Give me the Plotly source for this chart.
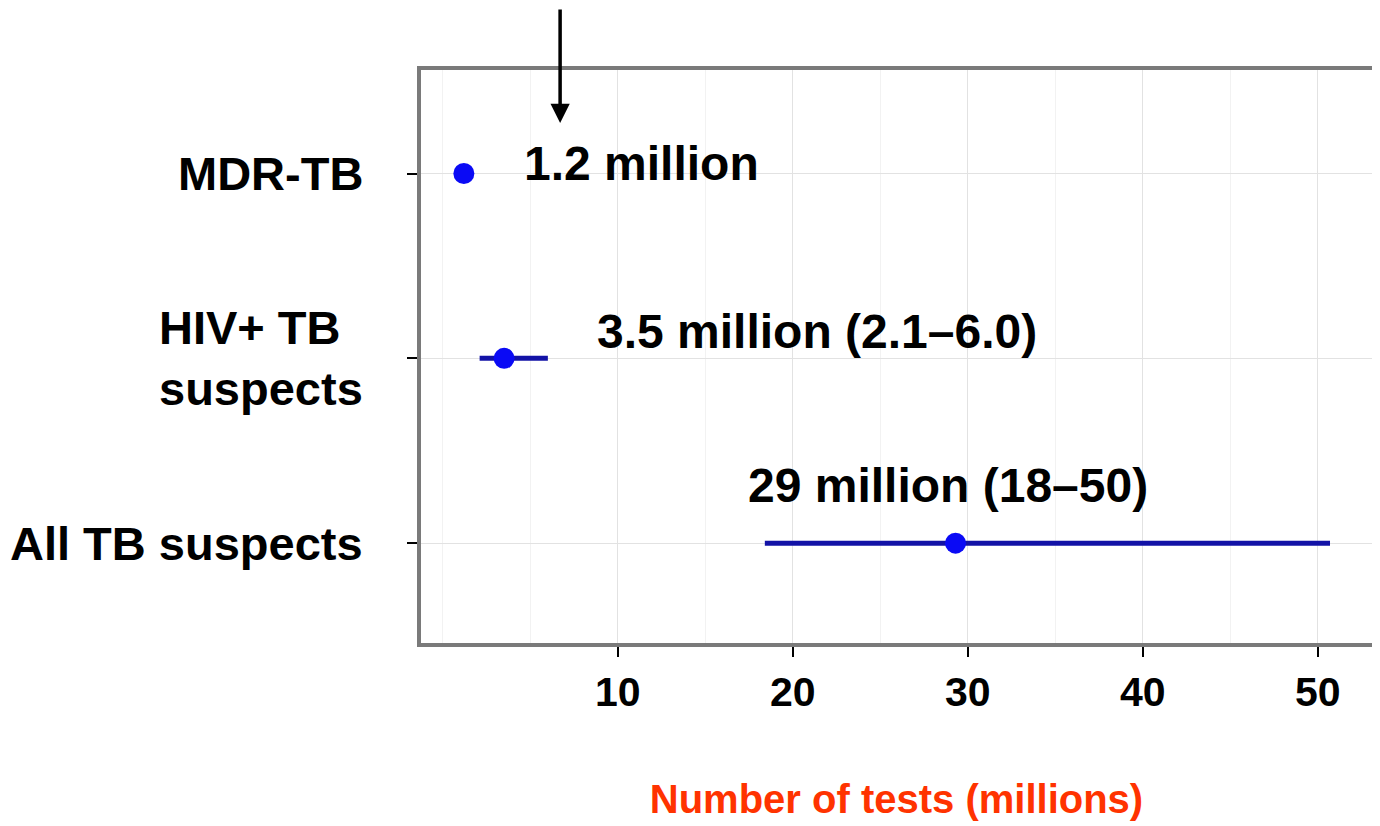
import plotly.graph_objects as go

categories = ["All TB suspects", "HIV+ TB suspects", "MDR-TB"]
cat_labels = ["All TB suspects", "HIV+ TB<br>suspects", "MDR-TB"]
estimates = [29.3, 3.5, 1.2]
low = [18.4, 2.1, 1.2]
high = [50.7, 6.0, 1.2]
value_labels = ["29 million (18–50)", "3.5 million (2.1–6.0)", "1.2 million"]
x_ticks = [10, 20, 30, 40, 50]

FONT = "Liberation Sans, Arial, sans-serif"

fig = go.Figure()
fig.add_trace(go.Scatter(
    x=estimates, y=categories, mode="markers",
    marker=dict(size=21, color="#0a0af5"),
    error_x=dict(type="data", symmetric=False,
                 array=[h - e for h, e in zip(high, estimates)],
                 arrayminus=[e - l for e, l in zip(estimates, low)],
                 color="#1212a6", thickness=5, width=0),
    showlegend=False, cliponaxis=False,
))

# value labels
label_x = [17.3, 8.7, 4.5]
label_shift = [58, 27, 10]
for c, t, lx, ys in zip(categories, value_labels, label_x, label_shift):
    fig.add_annotation(x=lx, y=c, xref="x", yref="y", text=t, showarrow=False,
                       xanchor="left", yanchor="middle", yshift=ys,
                       font=dict(family=FONT, size=48, color="black", weight="bold"))

# category labels
for c, t in zip(categories, cat_labels):
    fig.add_annotation(x=0, y=c, xref="paper", yref="y", text=t, showarrow=False,
                       xanchor="right", yanchor="middle", xshift=-56, align="left",
                       font=dict(family=FONT, size=47, color="black", weight="bold"))

# arrow
fig.add_annotation(x=6.7, y=0.9075, xref="x", yref="paper", text="",
                   showarrow=True, ax=0, ay=-124, arrowhead=2, arrowsize=1.1,
                   arrowwidth=3.5, arrowcolor="black")

# page body has an 8px margin; size and margins compensate for it
fig.update_layout(
    width=1372, height=818,
    margin=dict(l=413, r=4, t=62, b=183),
    plot_bgcolor="white", paper_bgcolor="white",
    font=dict(family=FONT, color="black"),
    xaxis=dict(
        range=[-1.25, 53.1], tickvals=x_ticks, ticks="outside", ticklen=10,
        tickwidth=2, tickcolor="black",
        showgrid=True, gridcolor="#e2e2e2", gridwidth=1,
        minor=dict(dtick=5, tick0=0, showgrid=True, gridcolor="#f2f2f2", ticks=""),
        showline=True, linecolor="#7a7a7a", linewidth=4, mirror=True,
        zeroline=False,
        tickfont=dict(family=FONT, size=41, color="black", weight="bold"),
        ticklabelstandoff=0,
        title=dict(text="Number of tests (millions)", standoff=72,
                   font=dict(family=FONT, size=40, color="#ff3300", weight="bold")),
    ),
    yaxis=dict(
        type="category", categoryorder="array", categoryarray=categories,
        range=[-0.54, 2.56], showticklabels=False,
        ticks="outside", ticklen=10, tickwidth=2, tickcolor="black",
        showgrid=True, gridcolor="#e2e2e2",
        showline=True, linecolor="#7a7a7a", linewidth=4, mirror=True,
        zeroline=False,
    ),
)

fig.write_html("out.html")
